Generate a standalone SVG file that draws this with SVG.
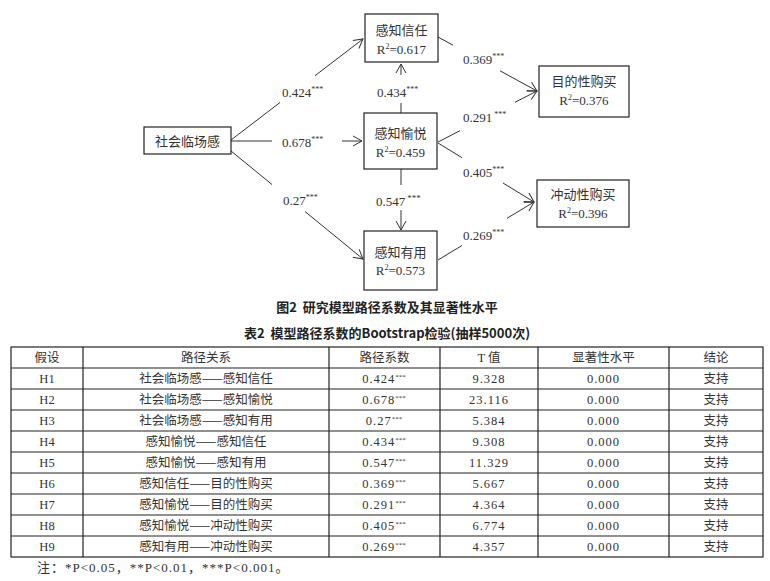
<svg xmlns="http://www.w3.org/2000/svg" width="770" height="581" viewBox="0 0 770 581">
<defs>
<marker id="arr" markerUnits="userSpaceOnUse" markerWidth="14" markerHeight="14" refX="10" refY="6" orient="auto">
<path d="M1,1 L10,6 L1,11" fill="none" stroke="#333" stroke-width="1"/>
</marker>
<style>
.box{fill:#fff;stroke:#222;stroke-width:1.2}
.ln{stroke:#333;stroke-width:1;fill:none}
.t{font-family:"Liberation Serif","Noto Sans CJK SC",serif;font-size:13px;fill:#333}
.c{text-anchor:middle}
.cap{font-family:"Noto Sans CJK SC","Liberation Sans",sans-serif;font-size:13px;font-weight:bold;fill:#222;text-anchor:middle}
.tb{font-family:"Liberation Serif","Noto Sans CJK SC",serif;font-size:12.5px;fill:#333;text-anchor:middle}
.zh{font-family:"Noto Sans CJK SC","Liberation Sans",sans-serif;font-size:12.5px;fill:#333;text-anchor:middle}
.sp{letter-spacing:1px}
.grid{stroke:#222;stroke-width:1.2;fill:none}
</style>
</defs>
<rect width="770" height="581" fill="#fff"/>

<g id="connectors">
<line class="ln" x1="231" y1="140" x2="280" y2="102.5"/>
<line class="ln" x1="315" y1="75.7" x2="363" y2="39" marker-end="url(#arr)"/>
<line class="ln" x1="231" y1="141" x2="272" y2="141"/>
<line class="ln" x1="342" y1="141" x2="362" y2="141" marker-end="url(#arr)"/>
<line class="ln" x1="231" y1="151" x2="272" y2="184.5"/>
<line class="ln" x1="305" y1="211.5" x2="363" y2="259" marker-end="url(#arr)"/>
<line class="ln" x1="401" y1="113" x2="401" y2="103"/>
<line class="ln" x1="401" y1="75" x2="401" y2="64" marker-end="url(#arr)"/>
<line class="ln" x1="401" y1="169" x2="401" y2="185"/>
<line class="ln" x1="401" y1="210" x2="401" y2="230" marker-end="url(#arr)"/>
<line class="ln" x1="438" y1="37" x2="453" y2="45.2"/>
<line class="ln" x1="500" y1="70.8" x2="537" y2="91" marker-end="url(#arr)"/>
<line class="ln" x1="438" y1="142" x2="460" y2="130.7"/>
<line class="ln" x1="515" y1="102.3" x2="537" y2="91" marker-end="url(#arr)"/>
<line class="ln" x1="438" y1="143" x2="462" y2="157.7"/>
<line class="ln" x1="503" y1="183" x2="534" y2="202" marker-end="url(#arr)"/>
<line class="ln" x1="438" y1="260" x2="462" y2="245.5"/>
<line class="ln" x1="507" y1="218.3" x2="534" y2="202" marker-end="url(#arr)"/>
</g>

<g id="edge-labels">
<text class="t" x="282" y="97">0.424<tspan dy="-5" font-size="8">***</tspan></text>
<text class="t" x="282" y="147">0.678<tspan dy="-5" font-size="8">***</tspan></text>
<text class="t" x="283" y="205">0.27<tspan dy="-5" font-size="8">***</tspan></text>
<text class="t" x="377" y="97">0.434<tspan dy="-5" font-size="8">***</tspan></text>
<text class="t" x="376" y="206">0.547<tspan dx="2" dy="-5" font-size="9">***</tspan></text>
<text class="t" x="463" y="64">0.369<tspan dy="-5" font-size="8">***</tspan></text>
<text class="t" x="463" y="122">0.291<tspan dx="2" dy="-5" font-size="8">***</tspan></text>
<text class="t" x="463" y="177">0.405<tspan dy="-5" font-size="8">***</tspan></text>
<text class="t" x="463" y="240">0.269<tspan dy="-5" font-size="8">***</tspan></text>
</g>

<g id="node-shlg">
<rect class="box" x="144" y="127" width="87" height="27"/>
<text class="t c" x="187.5" y="146">社会临场感</text>
</g>
<g id="node-trust">
<rect class="box" x="365" y="14" width="73" height="48"/>
<text class="t c" x="401.5" y="35">感知信任</text>
<text class="t c" x="401.5" y="54">R<tspan dy="-5" font-size="8">2</tspan><tspan dy="5">=0.617</tspan></text>
</g>
<g id="node-pleasure">
<rect class="box" x="364" y="113" width="73" height="56"/>
<text class="t c" x="400.5" y="138">感知愉悦</text>
<text class="t c" x="400.5" y="157">R<tspan dy="-5" font-size="8">2</tspan><tspan dy="5">=0.459</tspan></text>
</g>
<g id="node-useful">
<rect class="box" x="364" y="231" width="73" height="59"/>
<text class="t c" x="400.5" y="257">感知有用</text>
<text class="t c" x="400.5" y="275">R<tspan dy="-5" font-size="8">2</tspan><tspan dy="5">=0.573</tspan></text>
</g>
<g id="node-purpose">
<rect class="box" x="539" y="66" width="90" height="51"/>
<text class="t c" x="584" y="86">目的性购买</text>
<text class="t c" x="584" y="105">R<tspan dy="-5" font-size="8">2</tspan><tspan dy="5">=0.376</tspan></text>
</g>
<g id="node-impulse">
<rect class="box" x="537" y="180" width="92" height="47"/>
<text class="t c" x="583" y="199">冲动性购买</text>
<text class="t c" x="583" y="218">R<tspan dy="-5" font-size="8">2</tspan><tspan dy="5">=0.396</tspan></text>
</g>

<g id="captions">
<text class="cap" x="387" y="312">图2&#160;&#160;研究模型路径系数及其显著性水平</text>
<text class="cap" x="387" y="338">表2&#160;&#160;模型路径系数的Bootstrap检验(抽样5000次)</text>
</g>

<g id="table">
<rect class="grid" x="11" y="347" width="752" height="210"/>
<line class="grid" x1="11" y1="368" x2="763" y2="368"/>
<line class="grid" x1="11" y1="389" x2="763" y2="389"/>
<line class="grid" x1="11" y1="410" x2="763" y2="410"/>
<line class="grid" x1="11" y1="431" x2="763" y2="431"/>
<line class="grid" x1="11" y1="452" x2="763" y2="452"/>
<line class="grid" x1="11" y1="473" x2="763" y2="473"/>
<line class="grid" x1="11" y1="494" x2="763" y2="494"/>
<line class="grid" x1="11" y1="515" x2="763" y2="515"/>
<line class="grid" x1="11" y1="536" x2="763" y2="536"/>
<line class="grid" x1="83" y1="347" x2="83" y2="557"/>
<line class="grid" x1="329" y1="347" x2="329" y2="557"/>
<line class="grid" x1="440" y1="347" x2="440" y2="557"/>
<line class="grid" x1="538" y1="347" x2="538" y2="557"/>
<line class="grid" x1="669" y1="347" x2="669" y2="557"/>

<text class="zh" x="47" y="362">假设</text>
<text class="zh" x="206" y="362">路径关系</text>
<text class="zh" x="384.5" y="362">路径系数</text>
<text class="tb" x="489" y="362">T 值</text>
<text class="zh" x="603.5" y="362">显著性水平</text>
<text class="zh" x="716" y="362">结论</text>

<text class="tb" x="47" y="383">H1</text>
<text class="zh" x="206" y="383">社会临场感——感知信任</text>
<text class="tb sp" x="384" y="383">0.424<tspan dy="-4" font-size="7" letter-spacing="0">***</tspan></text>
<text class="tb sp" x="489" y="383">9.328</text>
<text class="tb sp" x="603.5" y="383">0.000</text>
<text class="zh" x="716" y="383">支持</text>

<text class="tb" x="47" y="404">H2</text>
<text class="zh" x="206" y="404">社会临场感——感知愉悦</text>
<text class="tb sp" x="384" y="404">0.678<tspan dy="-4" font-size="7" letter-spacing="0">***</tspan></text>
<text class="tb sp" x="489" y="404">23.116</text>
<text class="tb sp" x="603.5" y="404">0.000</text>
<text class="zh" x="716" y="404">支持</text>

<text class="tb" x="47" y="425">H3</text>
<text class="zh" x="206" y="425">社会临场感——感知有用</text>
<text class="tb sp" x="384" y="425">0.27<tspan dy="-4" font-size="7" letter-spacing="0">***</tspan></text>
<text class="tb sp" x="489" y="425">5.384</text>
<text class="tb sp" x="603.5" y="425">0.000</text>
<text class="zh" x="716" y="425">支持</text>

<text class="tb" x="47" y="446">H4</text>
<text class="zh" x="206" y="446">感知愉悦——感知信任</text>
<text class="tb sp" x="384" y="446">0.434<tspan dy="-4" font-size="7" letter-spacing="0">***</tspan></text>
<text class="tb sp" x="489" y="446">9.308</text>
<text class="tb sp" x="603.5" y="446">0.000</text>
<text class="zh" x="716" y="446">支持</text>

<text class="tb" x="47" y="467">H5</text>
<text class="zh" x="206" y="467">感知愉悦——感知有用</text>
<text class="tb sp" x="384" y="467">0.547<tspan dy="-4" font-size="7" letter-spacing="0">***</tspan></text>
<text class="tb sp" x="489" y="467">11.329</text>
<text class="tb sp" x="603.5" y="467">0.000</text>
<text class="zh" x="716" y="467">支持</text>

<text class="tb" x="47" y="488">H6</text>
<text class="zh" x="206" y="488">感知信任——目的性购买</text>
<text class="tb sp" x="384" y="488">0.369<tspan dy="-4" font-size="7" letter-spacing="0">***</tspan></text>
<text class="tb sp" x="489" y="488">5.667</text>
<text class="tb sp" x="603.5" y="488">0.000</text>
<text class="zh" x="716" y="488">支持</text>

<text class="tb" x="47" y="509">H7</text>
<text class="zh" x="206" y="509">感知愉悦——目的性购买</text>
<text class="tb sp" x="384" y="509">0.291<tspan dy="-4" font-size="7" letter-spacing="0">***</tspan></text>
<text class="tb sp" x="489" y="509">4.364</text>
<text class="tb sp" x="603.5" y="509">0.000</text>
<text class="zh" x="716" y="509">支持</text>

<text class="tb" x="47" y="530">H8</text>
<text class="zh" x="206" y="530">感知愉悦——冲动性购买</text>
<text class="tb sp" x="384" y="530">0.405<tspan dy="-4" font-size="7" letter-spacing="0">***</tspan></text>
<text class="tb sp" x="489" y="530">6.774</text>
<text class="tb sp" x="603.5" y="530">0.000</text>
<text class="zh" x="716" y="530">支持</text>

<text class="tb" x="47" y="551">H9</text>
<text class="zh" x="206" y="551">感知有用——冲动性购买</text>
<text class="tb sp" x="384" y="551">0.269<tspan dy="-4" font-size="7" letter-spacing="0">***</tspan></text>
<text class="tb sp" x="489" y="551">4.357</text>
<text class="tb sp" x="603.5" y="551">0.000</text>
<text class="zh" x="716" y="551">支持</text>
</g>

<g id="note">
<text class="t sp" x="37" y="572" font-size="12.5">注：*P&lt;0.05，**P&lt;0.01，***P&lt;0.001。</text>
</g>
</svg>
